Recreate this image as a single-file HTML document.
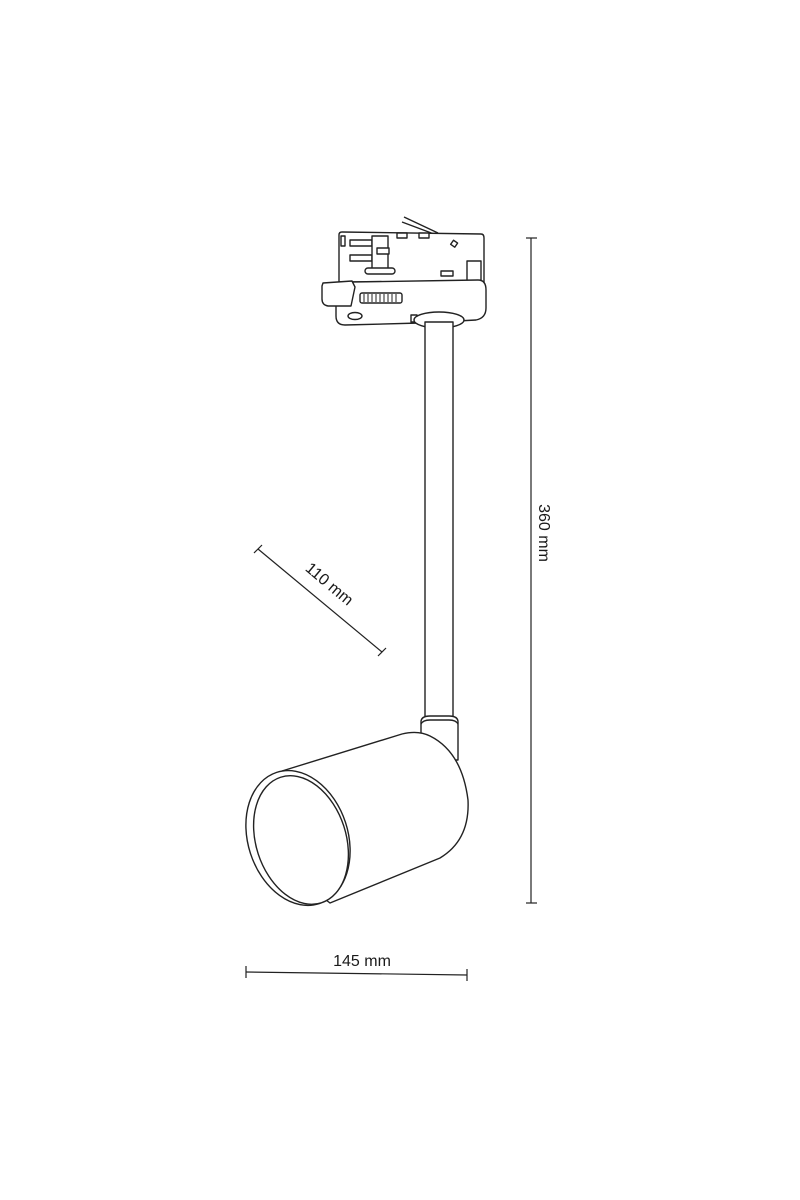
<!DOCTYPE html>
<html><head><style>
html,body{margin:0;padding:0;background:#fff;width:800px;height:1200px;overflow:hidden}
svg{display:block}
text{font-family:"Liberation Sans",sans-serif;font-size:16px;fill:#1a1a1a}
</style></head><body>
<svg width="800" height="1200" viewBox="0 0 800 1200" xmlns="http://www.w3.org/2000/svg">
<g fill="#fff" stroke="#222" stroke-width="1.4" stroke-linejoin="round">
 <!-- track adapter top -->
 <line x1="404" y1="217" x2="438" y2="233"/>
 <line x1="402" y1="222" x2="434" y2="234"/>
 <path d="M339 235 Q339 232 342 232 L481 234 Q484 234 484 238 L484 282 L339 282 Z"/>
 <rect x="341" y="236" width="4" height="10"/>
 <rect x="397" y="233" width="10" height="5"/>
 <rect x="419" y="233" width="10" height="5"/>
 <rect x="452" y="241" width="5" height="5" transform="rotate(35 454 243)"/>
 <rect x="350" y="240" width="22" height="6"/>
 <rect x="350" y="255" width="22" height="6"/>
 <rect x="372" y="236" width="16" height="36"/>
 <rect x="377" y="248" width="12" height="6"/>
 <rect x="365" y="268" width="30" height="6" rx="3"/>
 <rect x="467" y="261" width="14" height="21"/>
 <rect x="441" y="271" width="12" height="5"/>
 <!-- base -->
 <path d="M350 282 L478 280 Q486 280 486 290 L486 308 Q486 318 476 320 L420 323 L345 325 Q336 325 336 316 L336 290 Q336 282 350 282 Z"/>
 <path d="M323 283 L352 281 L355 287 L351 306 L328 306 Q322 305 322 299 L322 286 Z"/>
 <rect x="360" y="293" width="42" height="10" rx="2"/>
 <g stroke-width="1">
  <line x1="364" y1="294" x2="364" y2="302"/><line x1="368" y1="294" x2="368" y2="302"/><line x1="372" y1="294" x2="372" y2="302"/><line x1="376" y1="294" x2="376" y2="302"/><line x1="380" y1="294" x2="380" y2="302"/><line x1="384" y1="294" x2="384" y2="302"/><line x1="388" y1="294" x2="388" y2="302"/><line x1="392" y1="294" x2="392" y2="302"/><line x1="396" y1="294" x2="396" y2="302"/>
 </g>
 <ellipse cx="355" cy="316" rx="7" ry="3.5"/>
 <rect x="411" y="315" width="6" height="7"/>
 <ellipse cx="439" cy="320" rx="25" ry="8"/>
 <!-- rod -->
 <rect x="425" y="322" width="28" height="440"/>
 <path d="M421 733 L421 722 Q421 716 430 716 L449 716 Q458 716 458 722 L458 760 L421 760 Z"/>
 <path d="M421 724 Q423 720 430 720 L449 720 Q456 720 458 724" fill="none"/>
 <!-- cylinder body -->
 <path d="M282 771 L402 734 Q418 730 430 736 Q462 752 468 800 Q470 840 440 858 L330 903 L300 880 Z"/>
 <ellipse cx="298" cy="838" rx="50" ry="69" transform="rotate(-18 298 838)"/>
 <ellipse cx="301" cy="840" rx="45" ry="66" transform="rotate(-18 301 840)"/>
</g>
<g stroke="#222" stroke-width="1.2" fill="none">
 <line x1="531" y1="238" x2="531" y2="903"/>
 <line x1="526" y1="238" x2="537" y2="238"/>
 <line x1="526" y1="903" x2="537" y2="903"/>
 <line x1="246" y1="972" x2="467" y2="975"/>
 <line x1="246" y1="966" x2="246" y2="978"/>
 <line x1="467" y1="969" x2="467" y2="981"/>
 <line x1="258" y1="549" x2="382" y2="652"/>
 <line x1="254" y1="553" x2="262" y2="545"/>
 <line x1="378" y1="656" x2="386" y2="648"/>
</g>
<text x="362" y="966" text-anchor="middle">145 mm</text>
<text transform="translate(539 533) rotate(90)" text-anchor="middle">360 mm</text>
<text transform="translate(326 588) rotate(40)" text-anchor="middle">110 mm</text>
</svg>
</body></html>
